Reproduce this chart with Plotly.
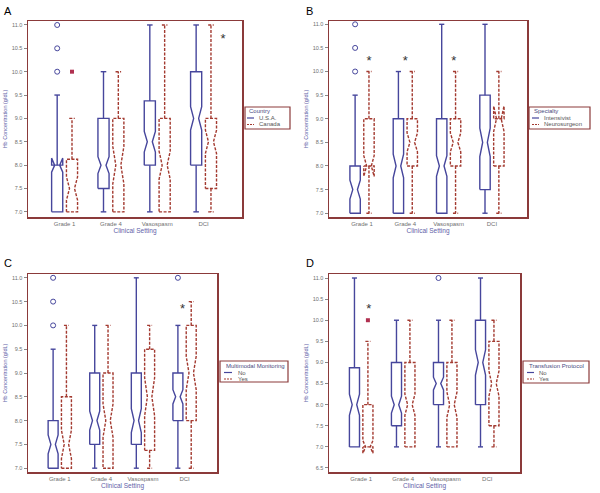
import plotly.graph_objects as go

# ---------------- data ----------------
categories = ["Grade 1", "Grade 4", "Vasospasm", "DCI"]
y_label = "Hb Concentration (g/dL)"
x_label = "Clinical Setting"

# Panel A - Country
A_legend_title = "Country"
A_names = ["U.S.A.", "Canada"]
A_blue = dict(q1=[7.0, 7.5, 8.0, 8.0], med=[8.0, 8.0, 8.5, 9.0], q3=[8.0, 9.0, 9.375, 10.0],
              lo=[7.0, 7.0, 7.0, 7.0], hi=[9.5, 10.0, 11.0, 11.0], notch=[0.15, 0.18, 0.22, 0.25])
A_red = dict(q1=[7.0, 7.0, 7.0, 7.5], med=[7.5, 8.0, 8.0, 8.5], q3=[8.125, 9.0, 9.0, 9.0],
             lo=[7.0, 7.0, 7.0, 7.0], hi=[9.0, 10.0, 11.0, 11.0], notch=[0.25, 0.4, 0.3, 0.25])
A_blue_out_cat = [0, 0, 0]
A_blue_out_val = [10.0, 10.5, 11.0]
A_red_out_cat = [0]
A_red_out_val = [10.0]
A_star_cat = [3]
A_star_shift = [0.42]
A_star_val = [10.76]

# Panel B - Specialty
B_legend_title = "Specialty"
B_names = ["Intensivist", "Neurosurgeon"]
B_blue = dict(q1=[7.0, 7.0, 7.0, 7.5], med=[7.5, 8.0, 8.0, 8.5], q3=[8.0, 9.0, 9.0, 9.5],
              lo=[7.0, 7.0, 7.0, 7.0], hi=[9.5, 10.0, 11.0, 11.0], notch=[0.2, 0.25, 0.22, 0.3])
B_red = dict(q1=[8.0, 8.0, 8.0, 8.0], med=[8.0, 8.5, 8.5, 9.0], q3=[9.0, 9.0, 9.0, 9.0],
             lo=[7.0, 7.0, 7.0, 7.0], hi=[10.0, 10.0, 10.0, 10.0], notch=[0.22, 0.2, 0.2, 0.27])
B_blue_out_cat = [0, 0, 0]
B_blue_out_val = [10.0, 10.5, 11.0]
B_red_out_cat = []
B_red_out_val = []
B_star_cat = [0, 1, 2]
B_star_shift = [0.16, 0.0, 0.12]
B_star_val = [10.28, 10.28, 10.28]

# Panel C - Multimodal Monitoring
C_legend_title = "Multimodal Monitoring"
C_names = ["No", "Yes"]
C_blue = dict(q1=[7.0, 7.5, 7.5, 8.0], med=[7.5, 8.0, 8.0, 8.5], q3=[8.0, 9.0, 9.0, 9.0],
              lo=[7.0, 7.0, 7.0, 7.0], hi=[9.5, 10.0, 11.0, 10.0], notch=[0.2, 0.2, 0.25, 0.15])
C_red = dict(q1=[7.0, 7.0, 7.375, 8.0], med=[7.5, 8.0, 8.5, 9.0], q3=[8.5, 9.0, 9.5, 10.0],
             lo=[7.0, 7.0, 7.0, 7.0], hi=[10.0, 10.0, 10.0, 10.5], notch=[0.3, 0.35, 0.4, 0.35])
C_blue_out_cat = [0, 0, 0, 3]
C_blue_out_val = [10.0, 10.5, 11.0, 11.0]
C_red_out_cat = []
C_red_out_val = []
C_star_cat = [3]
C_star_shift = [-0.05]
C_star_val = [10.4]

# Panel D - Transfusion Protocol
D_legend_title = "Transfusion Protocol"
D_names = ["No", "Yes"]
D_blue = dict(q1=[7.0, 7.5, 8.0, 8.0], med=[8.0, 8.0, 8.5, 9.0], q3=[8.875, 9.0, 9.0, 10.0],
              lo=[7.0, 7.0, 7.0, 7.0], hi=[11.0, 10.0, 10.0, 11.0], notch=[0.25, 0.2, 0.15, 0.3])
D_red = dict(q1=[7.0, 7.0, 7.0, 7.5], med=[7.0, 8.0, 8.0, 8.5], q3=[8.0, 9.0, 9.0, 9.5],
             lo=[7.0, 7.0, 7.0, 7.0], hi=[9.5, 10.0, 10.0, 10.0], notch=[0.15, 0.25, 0.3, 0.3])
D_blue_out_cat = [2]
D_blue_out_val = [11.0]
D_red_out_cat = [0]
D_red_out_val = [10.0]
D_star_cat = [0]
D_star_shift = [0.18]
D_star_val = [10.32]

# ---------------- style ----------------
BLUE = "#46469c"
RED = "#a33a30"
FRAME = "#8b3a3a"
TICK = "#707070"
TITLE = "#6262a8"
FONT = "Liberation Sans, Arial, sans-serif"
W, H = 600, 493

HW = 0.12    # half box width (category units)
OFF = 0.16   # offset of each group from category centre
NW = 0.45    # notch inner width fraction
CAP = 0.06   # whisker cap half width


def PX(v):
    return v / W


def PY(v):
    return 1 - v / H


def box_xy(stats, shift):
    xs, ys = [], []
    for i, (a, m, b, n, lo, hi) in enumerate(zip(stats["q1"], stats["med"], stats["q3"],
                                                   stats["notch"], stats["lo"], stats["hi"])):
        c = i + 1 + shift
        pts = [(c - HW, a), (c + HW, a), (c + HW, m - n), (c + NW * HW, m), (c + HW, m + n),
               (c + HW, b), (c - HW, b), (c - HW, m + n), (c - NW * HW, m), (c - HW, m - n),
               (c - HW, a)]
        for px, py in pts:
            xs.append(px); ys.append(py)
        xs.append(None); ys.append(None)
        if hi > b:
            xs += [c, c, None, c - CAP, c + CAP, None]
            ys += [b, hi, None, hi, hi, None]
        if lo < a:
            xs += [c, c, None, c - CAP, c + CAP, None]
            ys += [a, lo, None, lo, lo, None]
    return xs, ys


panels = [
    dict(letter="A", title=A_legend_title, names=A_names, blue=A_blue, red=A_red,
         bo=(A_blue_out_cat, A_blue_out_val), ro=(A_red_out_cat, A_red_out_val),
         star=(A_star_cat, A_star_shift, A_star_val),
         xd=[PX(28), PX(242)], yd=[PY(217), PY(21)],
         xr=[0.21, 4.83], yr=[6.89, 11.085],
         leg=dict(box=(245, 107, 290, 129), rows=(111.5, 118, 124.5), line=(247, 254), tx=257),
         lpos=(2, 3)),
    dict(letter="B", title=B_legend_title, names=B_names, blue=B_blue, red=B_red,
         bo=(B_blue_out_cat, B_blue_out_val), ro=(B_red_out_cat, B_red_out_val),
         star=(B_star_cat, B_star_shift, B_star_val),
         xd=[PX(329), PX(527)], yd=[PY(217), PY(21)],
         xr=[0.237, 4.81], yr=[6.92, 11.07],
         leg=dict(box=(529, 107, 590, 129), rows=(111.5, 118, 124.5), line=(532, 539), tx=542),
         lpos=(304, 3)),
    dict(letter="C", title=C_legend_title, names=C_names, blue=C_blue, red=C_red,
         bo=(C_blue_out_cat, C_blue_out_val), ro=(C_red_out_cat, C_red_out_val),
         star=(C_star_cat, C_star_shift, C_star_val),
         xd=[PX(28), PX(217)], yd=[PY(472), PY(274)],
         xr=[0.236, 4.78], yr=[6.92, 11.08],
         leg=dict(box=(220, 361, 288, 382), rows=(366, 372.5, 379), line=(224, 232), tx=236),
         lpos=(2, 255)),
    dict(letter="D", title=D_legend_title, names=D_names, blue=D_blue, red=D_red,
         bo=(D_blue_out_cat, D_blue_out_val), ro=(D_red_out_cat, D_red_out_val),
         star=(D_star_cat, D_star_shift, D_star_val),
         xd=[PX(329), PX(520)], yd=[PY(472), PY(274)],
         xr=[0.234, 4.78], yr=[6.405, 11.095],
         leg=dict(box=(523, 361, 589, 383), rows=(366, 372.5, 379), line=(527, 534), tx=537),
         lpos=(304, 255)),
]

fig = go.Figure()
layout = dict(width=W, height=H, margin=dict(l=0, r=0, t=0, b=0, autoexpand=False),
              paper_bgcolor="white", plot_bgcolor="white", showlegend=False,
              font=dict(family=FONT, size=6, color=TICK))
annotations = []
shapes = []

for k, p in enumerate(panels):
    sfx = "" if k == 0 else str(k + 1)
    xa, ya = "x" + sfx, "y" + sfx

    bx, by = box_xy(p["blue"], -OFF)
    rx, ry = box_xy(p["red"], OFF)
    fig.add_trace(go.Scatter(x=bx, y=by, mode="lines", name=p["names"][0],
                             line=dict(color=BLUE, width=1.4), xaxis=xa, yaxis=ya,
                             hoverinfo="skip"))
    fig.add_trace(go.Scatter(x=rx, y=ry, mode="lines", name=p["names"][1],
                             line=dict(color=RED, width=1.4, dash="3px,1.5px"), xaxis=xa, yaxis=ya,
                             hoverinfo="skip"))
    oc, ov = p["bo"]
    if oc:
        fig.add_trace(go.Scatter(x=[c + 1 - OFF for c in oc], y=ov, mode="markers",
                                 marker=dict(symbol="circle-open", size=5, color=BLUE,
                                             line=dict(width=1, color=BLUE)),
                                 xaxis=xa, yaxis=ya, hoverinfo="skip"))
    oc, ov = p["ro"]
    if oc:
        fig.add_trace(go.Scatter(x=[c + 1 + OFF for c in oc], y=ov, mode="markers",
                                 marker=dict(symbol="square", size=4, color="#b03050"),
                                 xaxis=xa, yaxis=ya, hoverinfo="skip"))
    sc, ss, sv = p["star"]
    fig.add_trace(go.Scatter(x=[c + 1 + s for c, s in zip(sc, ss)], y=[v - 0.08 for v in sv],
                             mode="text", text=["*"] * len(sc),
                             textfont=dict(size=13, color="#333333", family=FONT),
                             xaxis=xa, yaxis=ya, hoverinfo="skip"))

    layout["xaxis" + sfx] = dict(domain=p["xd"], range=p["xr"], anchor=ya,
                                 tickvals=[1, 2, 3, 4], ticktext=categories, ticks="",
                                 showline=True, mirror=True, linecolor=FRAME, linewidth=1.5,
                                 showgrid=False, zeroline=False,
                                 tickfont=dict(size=6, color=TICK),
                                 title=dict(text=x_label, standoff=1,
                                            font=dict(size=6.5, color=TITLE)))
    layout["yaxis" + sfx] = dict(domain=p["yd"], range=p["yr"], anchor=xa,
                                 dtick=0.5, tick0=0, tickformat=".1f", ticks="outside",
                                 ticklen=3, tickcolor="#888888", tickwidth=1,
                                 showline=True, mirror=True, linecolor=FRAME, linewidth=1.5,
                                 showgrid=False, zeroline=False,
                                 tickfont=dict(size=5.5, color=TICK),
                                 title=dict(text=y_label, standoff=4,
                                            font=dict(size=5.5, color=TITLE)))

    # legend (drawn manually to match the compact original)
    L = p["leg"]
    x0, y0, x1, y1 = L["box"]
    shapes.append(dict(type="rect", xref="paper", yref="paper",
                       x0=PX(x0), x1=PX(x1), y0=PY(y1), y1=PY(y0),
                       line=dict(color=FRAME, width=1.2), fillcolor="white"))
    r0, r1, r2 = L["rows"]
    lx0, lx1 = L["line"]
    shapes.append(dict(type="line", xref="paper", yref="paper",
                       x0=PX(lx0), x1=PX(lx1), y0=PY(r1), y1=PY(r1),
                       line=dict(color=BLUE, width=1.2)))
    shapes.append(dict(type="line", xref="paper", yref="paper",
                       x0=PX(lx0), x1=PX(lx1), y0=PY(r2), y1=PY(r2),
                       line=dict(color=RED, width=1.2, dash="2px,1px")))
    annotations.append(dict(text=p["title"], x=PX(lx0), y=PY(r0), xref="paper", yref="paper",
                            xanchor="left", yanchor="middle", showarrow=False,
                            font=dict(size=6, color="#4a4a80", family=FONT)))
    for nm, ry_ in zip(p["names"], (r1, r2)):
        annotations.append(dict(text=nm, x=PX(L["tx"]), y=PY(ry_), xref="paper", yref="paper",
                                xanchor="left", yanchor="middle", showarrow=False,
                                font=dict(size=6, color="#555555", family=FONT)))

    lx, ly = p["lpos"]
    annotations.append(dict(text=p["letter"], x=PX(lx), y=PY(ly), xref="paper", yref="paper",
                            xanchor="left", yanchor="top", showarrow=False,
                            font=dict(size=11, color="black", family=FONT)))

layout["annotations"] = annotations
layout["shapes"] = shapes
fig.update_layout(**layout)
fig.write_html("out.html", config={"displayModeBar": False, "staticPlot": True},
               post_script="document.body.style.margin='0';document.body.style.padding='0';")
